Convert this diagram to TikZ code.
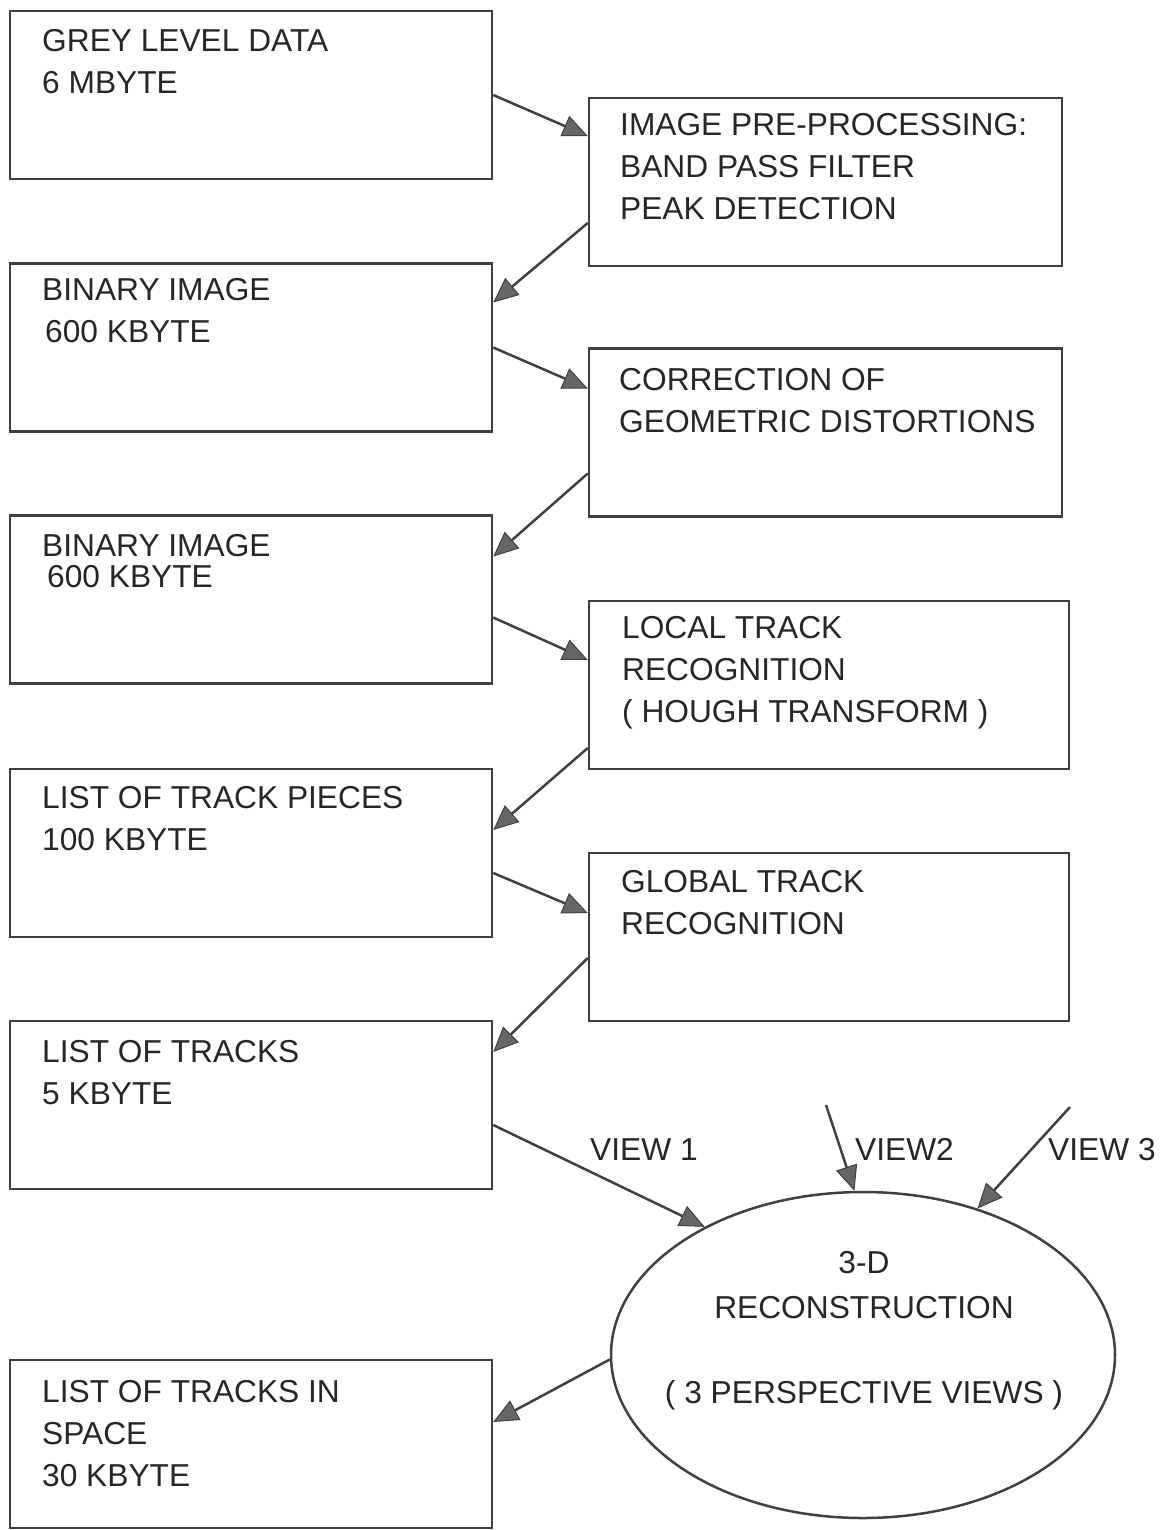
\documentclass[tikz,border=0pt]{standalone}
\usepackage{fontspec}
\setmainfont{Liberation Sans}
\usetikzlibrary{arrows.meta,shapes.geometric}
\begin{document}
\begin{tikzpicture}[x=1pt,y=-1pt,
  data/.style={draw=black!75, line width=2.5pt, minimum width=482pt,
               minimum height=168pt, inner sep=0pt},
  proc/.style={data, minimum width=473pt},
  recbox/.style={draw=black!75, line width=2.5pt, ellipse, minimum width=504pt,
                 minimum height=326pt, inner sep=0pt},
  txt/.style={anchor=base west, align=left, inner sep=0pt, text=black!85,
              font=\fontsize{31.7}{42}\selectfont},
  flow/.style={draw=black!75, line width=2.5pt,
               -{Triangle[length=25pt, width=22pt, line width=1pt, fill=black!60]}},
  ]
  \useasboundingbox (0,0) rectangle (1170,1530);
  % ---- data (left column) ---------------------------------------------------
  % text nodes are placed by the baseline of their last line
  \node[data] (grey)   at (251,95)    {};
  \node[data] (bin1)   at (251,347.5) {};
  \node[data] (bin2)   at (251,599.5) {};
  \node[data] (pieces) at (251,853)   {};
  \node[data] (tracks) at (251,1105)  {};
  \node[data] (space)  at (251,1444)  {};
  \node[txt] (grey-t)   at (42,94)   {GREY LEVEL DATA\\6 MBYTE};
  \node[txt] (bin1-t)   at (42,342)  {BINARY IMAGE\\\hspace{3pt}600 KBYTE};
  \node[txt] (bin2-t)   at (42,587)  {BINARY IMAGE\\[-11pt]\hspace{5pt}600 KBYTE};
  \node[txt] (pieces-t) at (42,850)  {LIST OF TRACK PIECES\\100 KBYTE};
  \node[txt] (tracks-t) at (42,1104) {LIST OF TRACKS\\5 KBYTE};
  \node[txt] (space-t)  at (42,1486) {LIST OF TRACKS IN\\SPACE\\30 KBYTE};
  % ---- processing steps (right column) --------------------------------------
  \node[proc] (pre)  at (825.5,182)   {};
  \node[proc] (geom) at (825.5,432.5) {};
  \node[proc, minimum width=480pt] (local)  at (829,685) {};
  \node[proc, minimum width=480pt] (global) at (829,937) {};
  \node[recbox] (recon) at (863,1355) {};
  \node[txt] (pre-t)    at (620,220) {IMAGE PRE-PROCESSING:\\BAND PASS FILTER\\PEAK DETECTION};
  \node[txt] (geom-t)   at (619,432) {CORRECTION OF\\GEOMETRIC DISTORTIONS};
  \node[txt] (local-t)  at (622,722) {LOCAL TRACK\\RECOGNITION\\( HOUGH TRANSFORM )};
  \node[txt] (global-t) at (621,934) {GLOBAL TRACK\\RECOGNITION};
  \node[txt, anchor=base, align=center] (recon-t) at (864,1403)
    {3-D\\[3pt]RECONSTRUCTION\\[43pt]( 3 PERSPECTIVE VIEWS )};
  % ---- the views -----------------------------------------------------------
  \node[txt] (v1-t) at (590,1160)  {VIEW 1};
  \node[txt] (v2-t) at (855,1160)  {VIEW2};
  \node[txt] (v3-t) at (1048,1160) {VIEW 3};
  \coordinate (v2) at (826,1105);
  \coordinate (v3) at (1070,1107);
  % ---- flow ----------------------------------------------------------------
  \draw[flow] (grey.east) -- ([yshift=46pt]pre.west);
  \draw[flow] ([yshift=-41pt]pre.west) -- ([yshift=45pt]bin1.east);
  \draw[flow] (bin1.east) -- ([yshift=44pt]geom.west);
  \draw[flow] ([yshift=-41pt]geom.west) -- ([yshift=43pt]bin2.east);
  \draw[flow] ([yshift=-18pt]bin2.east) -- ([yshift=25pt]local.west);
  \draw[flow] ([yshift=-63pt]local.west) -- ([yshift=23pt]pieces.east);
  \draw[flow] ([yshift=-20pt]pieces.east) -- ([yshift=24pt]global.west);
  \draw[flow] ([yshift=-21pt]global.west) -- ([yshift=53pt]tracks.east);
  \draw[flow] ([yshift=-20pt]tracks.east) -- (recon.141);
  \draw[flow] (v2) -- (recon.93);
  \draw[flow] (v3) -- (recon.52);
  \draw[flow] (recon.181) -- ([yshift=22pt]space.east);
\end{tikzpicture}
\end{document}
